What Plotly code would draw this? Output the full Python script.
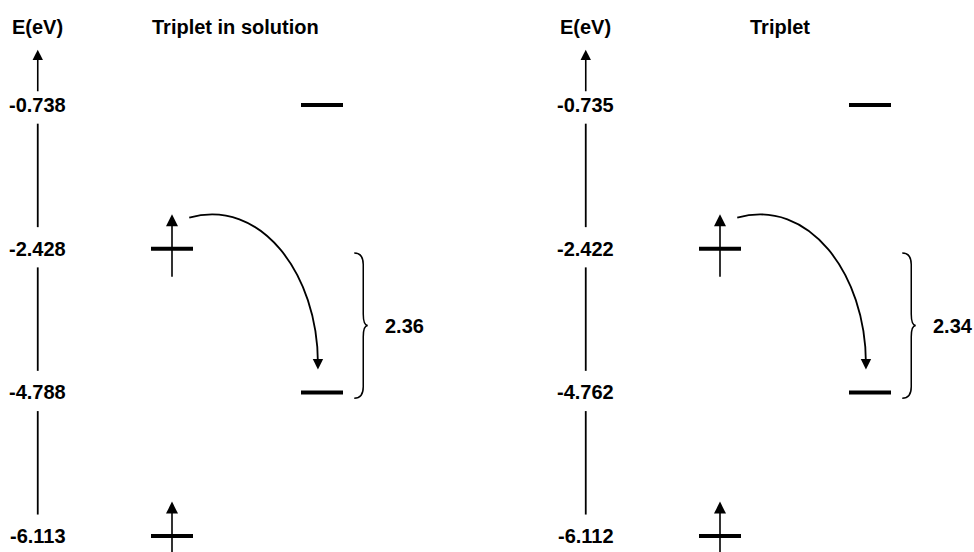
import plotly.graph_objects as go

# ---------------- data ----------------
panel_titles = ["Triplet in solution", "Triplet"]
energy_axis_label = "E(eV)"
level_energies_solution = [-0.738, -2.428, -4.788, -6.113]
level_energies_triplet = [-0.735, -2.422, -4.762, -6.112]
orbital_column = [1, 0, 1, 0]        # 0 = occupied column, 1 = empty column
spin_up_electrons = [0, 1, 0, 1]
transition_from = 1
transition_to = 2

panels = [level_energies_solution, level_energies_triplet]

# ---------------- layout constants ----------------
W, H = 974, 552
split_px = 550
col0_px = [172, 720]
unit_px = 150.0
level0_px = 105.0
step_px = 143.7
title_x = [-0.147, 0.187]
axis_x = -0.895
font = dict(family="Arial, Liberation Sans, sans-serif", size=20, color="black", weight="bold")
ink = "black"

fig = go.Figure()
annotations = []
shapes = []

for p, energies in enumerate(panels):
    xa = "x" if p == 0 else "x2"
    ya = "y" if p == 0 else "y2"
    n = len(energies)

    # level bars
    bx, by = [], []
    for i, e in enumerate(energies):
        c = orbital_column[i]
        bx += [c - 0.14, c + 0.14, None]
        by += [i, i, None]
    fig.add_trace(go.Scatter(x=bx, y=by, mode="lines", line=dict(color=ink, width=4),
                             xaxis=xa, yaxis=ya, hoverinfo="skip", showlegend=False))

    # broken energy axis between labels
    sx, sy = [], []
    for i in range(n - 1):
        sx += [axis_x, axis_x, None]
        sy += [i + 0.13, i + 1 - 0.15, None]
    fig.add_trace(go.Scatter(x=sx, y=sy, mode="lines", line=dict(color=ink, width=1.8),
                             xaxis=xa, yaxis=ya, hoverinfo="skip", showlegend=False))

    # top axis arrow
    annotations.append(dict(x=axis_x, y=-0.385, ax=axis_x, ay=-0.085, xref=xa, yref=ya,
                            axref=xa, ayref=ya, text="", showarrow=True, arrowhead=2,
                            arrowsize=1.3, arrowwidth=1.6, arrowcolor=ink))
    annotations.append(dict(x=axis_x, y=-0.543, xref=xa, yref=ya, text=energy_axis_label,
                            showarrow=False, font=font, xanchor="center", yanchor="middle"))
    annotations.append(dict(x=title_x[p], y=-0.543, xref=xa, yref=ya, text=panel_titles[p],
                            showarrow=False, font=font, xanchor="left", yanchor="middle"))

    # energy labels
    for i, e in enumerate(energies):
        annotations.append(dict(x=axis_x, y=i, xref=xa, yref=ya, text=f"{e:.3f}",
                                showarrow=False, font=font, xanchor="center", yanchor="middle"))

    # spin arrows
    for i, s in enumerate(spin_up_electrons):
        if s:
            c = orbital_column[i]
            annotations.append(dict(x=c, y=i - 0.24, ax=c, ay=i + 0.205, xref=xa, yref=ya,
                                    axref=xa, ayref=ya, text="", showarrow=True, arrowhead=2,
                                    arrowsize=1.5, arrowwidth=1.6, arrowcolor=ink))

    # curved transition arrow
    i0, i1 = transition_from, transition_to
    x0 = orbital_column[i0] + 0.115
    y0 = i0 - 0.216
    x3 = orbital_column[i1] - 0.027
    y3 = i1 - 0.16
    x1, y1 = orbital_column[i0] + 0.59, y0 - 0.14
    x2, y2 = x3, y0 + 0.37 * (y3 - y0)
    shapes.append(dict(type="path", xref=xa, yref=ya,
                       path=f"M {x0},{y0} C {x1},{y1} {x2},{y2} {x3},{y3 - 0.04}",
                       line=dict(color=ink, width=1.8)))
    annotations.append(dict(x=x3, y=y3, ax=x3, ay=y3 - 0.06, xref=xa, yref=ya,
                            axref=xa, ayref=ya, text="", showarrow=True, arrowhead=2,
                            arrowsize=1.3, arrowwidth=1.6, arrowcolor=ink))

    # bracket with gap value
    gap = energies[i0] - energies[i1]
    bxl, bxv, bxt = 1.215, 1.275, 1.305
    yt, yb = i0 + 0.03, i1 + 0.04
    ym = (yt + yb) / 2
    cc = 0.08
    bpath = (f"M {bxl},{yt} Q {bxv},{yt} {bxv},{yt + cc} L {bxv},{ym - cc} "
             f"Q {bxv},{ym} {bxt},{ym} Q {bxv},{ym} {bxv},{ym + cc} "
             f"L {bxv},{yb - cc} Q {bxv},{yb} {bxl},{yb}")
    shapes.append(dict(type="path", xref=xa, yref=ya, path=bpath,
                       line=dict(color=ink, width=1.5)))
    annotations.append(dict(x=1.405, y=ym, xref=xa, yref=ya, text=f"{gap:.2f}",
                            showarrow=False, font=font, xanchor="left", yanchor="middle"))

yrange = [(H - level0_px) / step_px, -level0_px / step_px]
hidden = dict(visible=False, showgrid=False, zeroline=False)
fig.update_layout(
    width=W, height=H, margin=dict(l=0, r=0, t=0, b=0),
    paper_bgcolor="white", plot_bgcolor="white", showlegend=False,
    xaxis=dict(domain=[0, split_px / W],
               range=[(0 - col0_px[0]) / unit_px, (split_px - col0_px[0]) / unit_px], **hidden),
    xaxis2=dict(domain=[split_px / W, 1],
                range=[(split_px - col0_px[1]) / unit_px, (W - col0_px[1]) / unit_px], **hidden),
    yaxis=dict(range=yrange, anchor="x", **hidden),
    yaxis2=dict(range=yrange, anchor="x2", **hidden),
    annotations=annotations, shapes=shapes,
)

fig.write_html(
    "out.html",
    config={"displayModeBar": False, "staticPlot": True},
    post_script="document.body.style.margin='0';document.body.style.overflow='hidden';",
)
